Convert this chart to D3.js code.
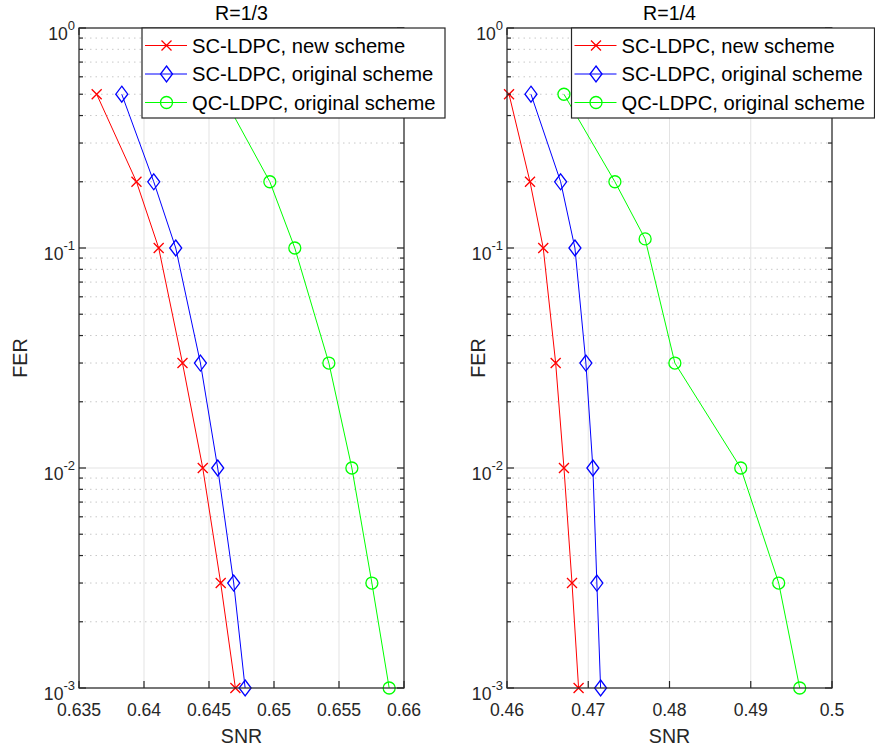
<!DOCTYPE html>
<html>
<head>
<meta charset="utf-8">
<script src="https://cdn.jsdelivr.net/npm/d3@7"></script>
<style>
  body { margin: 0; background: #fff; }
  svg { display: block; font-family: 'Liberation Sans', Arial, sans-serif; }
</style>
</head>
<body>
<div id="chart"></div>
<script>
// data
const FER = [0.5, 0.2, 0.1, 0.03, 0.01, 0.003, 0.001]
const FER_QC_R14 = [0.5, 0.2, 0.11, 0.03, 0.01, 0.003, 0.001]

const SNR_SC_NEW_R13 = [0.63636, 0.63942, 0.64113, 0.64296, 0.64452, 0.64590, 0.64703]
const SNR_SC_ORIG_R13 = [0.63829, 0.64075, 0.64244, 0.64434, 0.64567, 0.64690, 0.64778]
const SNR_QC_ORIG_R13 = [0.64600, 0.64968, 0.65160, 0.65422, 0.65599, 0.65753, 0.65886]

const SNR_SC_NEW_R14 = [0.46025, 0.46283, 0.46446, 0.46599, 0.46701, 0.46800, 0.46881]
const SNR_SC_ORIG_R14 = [0.46295, 0.46660, 0.46836, 0.46971, 0.47057, 0.47106, 0.47152]
const SNR_QC_ORIG_R14 = [0.46701, 0.47328, 0.47700, 0.48066, 0.48877, 0.49344, 0.49603]

const SERIES_NAMES = ['SC-LDPC, new scheme', 'SC-LDPC, original scheme', 'QC-LDPC, original scheme']
const SERIES_COLORS = ['#ff0000', '#0000ff', '#00ff00']
const SERIES_MARKERS = ['x', 'diamond', 'circle']

const X_TICKS_R13 = [0.635, 0.64, 0.645, 0.65, 0.655, 0.66]
const X_TICKS_R14 = [0.46, 0.47, 0.48, 0.49, 0.5]
const Y_DECADES = [-3, -2, -1, 0]

const AXIS_COLOR = '#262626'
const GRID_COLOR = '#e3e3e3'

const svg = d3.select('#chart')
    .append('svg')
    .attr('width', 875)
    .attr('height', 753)

function drawMarker(g, type, color) {
    if (type === 'x') {
        const s = 5
        g.append('path')
            .attr('d', `M${-s},${-s}L${s},${s}M${-s},${s}L${s},${-s}`)
            .attr('stroke', color).attr('stroke-width', 1.3).attr('fill', 'none')
    } else if (type === 'diamond') {
        g.append('path')
            .attr('d', 'M0,-8L6,0L0,8L-6,0Z')
            .attr('stroke', color).attr('stroke-width', 1.3).attr('fill', 'none')
    } else {
        g.append('circle')
            .attr('r', 6)
            .attr('stroke', color).attr('stroke-width', 1.3).attr('fill', 'none')
    }
}

function drawPanel(opt) {
    const x = d3.scaleLinear().domain(opt.xDomain).range([opt.left, opt.right])
    const y = d3.scaleLog().domain([1e-3, 1]).range([opt.bottom, opt.top])
    const g = svg.append('g')

    // clip for data lines
    const clipId = 'clip' + opt.id
    svg.append('clipPath').attr('id', clipId)
        .append('rect')
        .attr('x', opt.left).attr('y', opt.top)
        .attr('width', opt.right - opt.left).attr('height', opt.bottom - opt.top)

    // minor grid (dotted)
    const minor = []
    Y_DECADES.slice(0, -1).forEach(e => {
        for (let k = 2; k <= 9; k++) minor.push(k * Math.pow(10, e))
    })
    g.selectAll('.minorgrid')
        .data(minor)
        .enter()
        .append('line')
        .attr('x1', opt.left).attr('x2', opt.right)
        .attr('y1', d => y(d)).attr('y2', d => y(d))
        .attr('stroke', '#c8c8c8')
        .attr('stroke-width', 1)
        .attr('stroke-dasharray', '1.5,4')

    // major grid
    g.selectAll('.ygrid')
        .data(Y_DECADES.map(e => Math.pow(10, e)))
        .enter()
        .append('line')
        .attr('x1', opt.left).attr('x2', opt.right)
        .attr('y1', d => y(d)).attr('y2', d => y(d))
        .attr('stroke', GRID_COLOR)
    g.selectAll('.xgrid')
        .data(opt.xTicks)
        .enter()
        .append('line')
        .attr('x1', d => x(d)).attr('x2', d => x(d))
        .attr('y1', opt.top).attr('y2', opt.bottom)
        .attr('stroke', GRID_COLOR)

    // series
    const line = d3.line().x(d => x(d[0])).y(d => y(d[1]))
    opt.series.forEach((s, i) => {
        const pts = s.x.map((v, j) => [v, s.y[j]])
        g.append('path')
            .datum(pts)
            .attr('clip-path', `url(#${clipId})`)
            .attr('d', line)
            .attr('fill', 'none')
            .attr('stroke', SERIES_COLORS[i])
            .attr('stroke-width', 1)
        pts.forEach(p => {
            const m = g.append('g')
                .attr('transform', `translate(${x(p[0])},${y(p[1])})`)
            drawMarker(m, SERIES_MARKERS[i], SERIES_COLORS[i])
        })
    })

    // axes box
    g.append('rect')
        .attr('x', opt.left).attr('y', opt.top)
        .attr('width', opt.right - opt.left).attr('height', opt.bottom - opt.top)
        .attr('fill', 'none').attr('stroke', AXIS_COLOR).attr('stroke-width', 1.2)

    // x ticks (bottom and top, inward)
    opt.xTicks.forEach(t => {
        g.append('line').attr('x1', x(t)).attr('x2', x(t))
            .attr('y1', opt.bottom).attr('y2', opt.bottom - 7)
            .attr('stroke', AXIS_COLOR).attr('stroke-width', 1.2)
        g.append('line').attr('x1', x(t)).attr('x2', x(t))
            .attr('y1', opt.top).attr('y2', opt.top + 7)
            .attr('stroke', AXIS_COLOR).attr('stroke-width', 1.2)
        g.append('text')
            .attr('x', x(t)).attr('y', opt.bottom + 28)
            .attr('text-anchor', 'middle')
            .attr('font-size', 17.6)
            .attr('fill', AXIS_COLOR)
            .text(String(t))
    })

    // y ticks
    Y_DECADES.forEach(e => {
        const yy = y(Math.pow(10, e))
        ;[[opt.left, 7], [opt.right, -7]].forEach(([x0, l]) => {
            g.append('line').attr('x1', x0).attr('x2', x0 + l)
                .attr('y1', yy).attr('y2', yy)
                .attr('stroke', AXIS_COLOR).attr('stroke-width', 1.2)
        })
        const t = g.append('text')
            .attr('x', opt.left - 4).attr('y', yy + 12)
            .attr('text-anchor', 'end')
            .attr('fill', AXIS_COLOR)
            .attr('font-size', 17.6)
        t.append('tspan').text('10')
        t.append('tspan').attr('dy', -10).attr('font-size', 13).text(String(e))
    })
    minor.forEach(v => {
        const yy = y(v)
        ;[[opt.left, 4], [opt.right, -4]].forEach(([x0, l]) => {
            g.append('line').attr('x1', x0).attr('x2', x0 + l)
                .attr('y1', yy).attr('y2', yy)
                .attr('stroke', AXIS_COLOR).attr('stroke-width', 1.2)
        })
    })

    // labels and title
    const cx = (opt.left + opt.right) / 2
    g.append('text')
        .attr('x', cx).attr('y', 20)
        .attr('text-anchor', 'middle').attr('font-size', 19.6)
        .attr('fill', '#000')
        .text(opt.title)
    g.append('text')
        .attr('x', cx).attr('y', 743)
        .attr('text-anchor', 'middle').attr('font-size', 19.6)
        .attr('fill', AXIS_COLOR)
        .text('SNR')
    g.append('text')
        .attr('transform', `translate(${opt.ylabelX + 7},${(opt.top + opt.bottom) / 2}) rotate(-90)`)
        .attr('text-anchor', 'middle').attr('font-size', 19.8)
        .attr('fill', AXIS_COLOR)
        .text('FER')

    // legend
    const lg = g.append('g').attr('transform', `translate(${opt.legendX},${opt.top})`)
    lg.append('rect')
        .attr('x', 0).attr('y', 0).attr('width', 303).attr('height', 90)
        .attr('fill', '#fff').attr('stroke', AXIS_COLOR).attr('stroke-width', 1.2)
    SERIES_NAMES.forEach((name, i) => {
        const ly = 17.5 + i * 28.5
        lg.append('line').attr('x1', 3).attr('x2', 45)
            .attr('y1', ly).attr('y2', ly)
            .attr('stroke', SERIES_COLORS[i])
        const m = lg.append('g').attr('transform', `translate(24.5,${ly})`)
        drawMarker(m, SERIES_MARKERS[i], SERIES_COLORS[i])
        lg.append('text')
            .attr('x', 50).attr('y', ly + 7)
            .attr('font-size', 20.2)
            .attr('fill', '#000')
            .text(name)
    })
}

drawPanel({
    id: 'a', title: 'R=1/3',
    left: 79, right: 404, top: 28, bottom: 688,
    xDomain: [0.635, 0.66], xTicks: X_TICKS_R13, legendX: 142, ylabelX: 20,
    series: [
        { x: SNR_SC_NEW_R13, y: FER },
        { x: SNR_SC_ORIG_R13, y: FER },
        { x: SNR_QC_ORIG_R13, y: FER }
    ]
})

drawPanel({
    id: 'b', title: 'R=1/4',
    left: 507, right: 832, top: 28, bottom: 688,
    xDomain: [0.46, 0.5], xTicks: X_TICKS_R14, legendX: 571.5, ylabelX: 478,
    series: [
        { x: SNR_SC_NEW_R14, y: FER },
        { x: SNR_SC_ORIG_R14, y: FER },
        { x: SNR_QC_ORIG_R14, y: FER_QC_R14 }
    ]
})
</script>
</body>
</html>
